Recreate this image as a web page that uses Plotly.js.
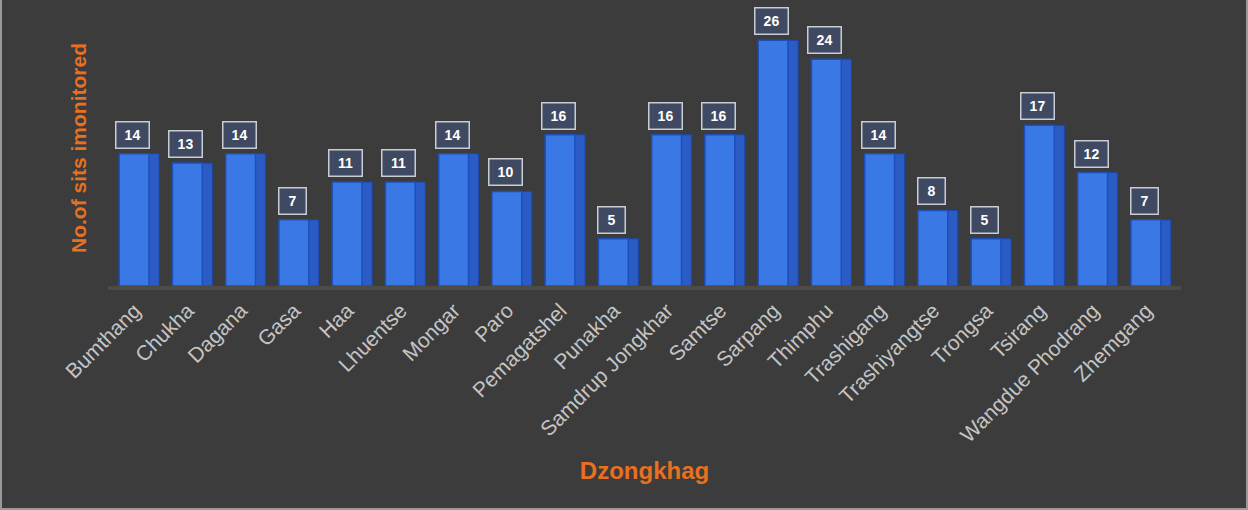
<!DOCTYPE html>
<html>
<head>
<meta charset="utf-8">
<script src="https://cdn.plot.ly/plotly-3.0.1.min.js"></script>
<style>
  html, body { margin: 0; padding: 0; background: #3c3c3c; }
  #chart { width: 1244px; height: 508px; border-left: 2px solid #9a9a9a; border-right: 2px solid #9a9a9a; border-bottom: 2px solid #9a9a9a; }
</style>
</head>
<body>
<div id="chart"></div>
<script>
const categories = ["Bumthang", "Chukha", "Dagana", "Gasa", "Haa", "Lhuentse", "Mongar", "Paro", "Pemagatshel", "Punakha", "Samdrup Jongkhar", "Samtse", "Sarpang", "Thimphu", "Trashigang", "Trashiyangtse", "Trongsa", "Tsirang", "Wangdue Phodrang", "Zhemgang"];
const sites = [14, 13, 14, 7, 11, 11, 14, 10, 16, 5, 16, 16, 26, 24, 14, 8, 5, 17, 12, 7];

const sideFace = {
  type: "bar", x: categories, y: sites,
  offset: 0.26, width: 0.2,
  marker: { color: "#2b5cc6", line: { color: "#1a46a8", width: 1 } },
  hoverinfo: "skip", showlegend: false
};
const frontFace = {
  type: "bar", x: categories, y: sites,
  offset: -0.29, width: 0.56,
  marker: { color: "#3a78e6", line: { color: "#1d4fb8", width: 1.5 } },
  showlegend: false
};

const annotations = categories.map((c, i) => ({
  x: c, y: sites[i], xref: "x", yref: "y",
  text: "<b>" + sites[i] + "</b>", showarrow: false,
  yanchor: "bottom", xanchor: "center", xshift: -2, yshift: 5,
  font: { family: "Liberation Sans, Arial", size: 14, color: "#ffffff" },
  bgcolor: "#3f4a62", bordercolor: "#c8ccd4", borderwidth: 1.5, borderpad: 3,
  width: sites[i] >= 10 ? 26 : 20, height: 19
}));

const layout = {
  width: 1244, height: 508,
  paper_bgcolor: "#3c3c3c", plot_bgcolor: "#3c3c3c",
  margin: { l: 106, r: 65, t: 10, b: 222 },
  barmode: "overlay",
  font: { family: "Liberation Sans, Arial", color: "#c8c8c8" },
  xaxis: {
    type: "category", tickangle: -45, ticks: "", showgrid: false, zeroline: false,
    showline: true, linecolor: "#4e4a44", linewidth: 4,
    tickfont: { family: "Liberation Sans, Arial", size: 21, color: "#c4c4c4" },
    range: [-0.5, 19.65],
    title: { text: "<b>Dzongkhag</b>", font: { family: "Liberation Sans, Arial", size: 24, color: "#e8701f" }, standoff: 18 }
  },
  yaxis: {
    range: [0, 29.2], showticklabels: false, showgrid: false, zeroline: false, showline: false, ticks: "",
    title: { text: "<b>No.of sits imonitored</b>", font: { family: "Liberation Sans, Arial", size: 21, color: "#e8701f" }, standoff: 14 }
  },
  annotations: annotations
};

Plotly.newPlot("chart", [sideFace, frontFace], layout, { displayModeBar: false, staticPlot: true });
</script>
</body>
</html>
